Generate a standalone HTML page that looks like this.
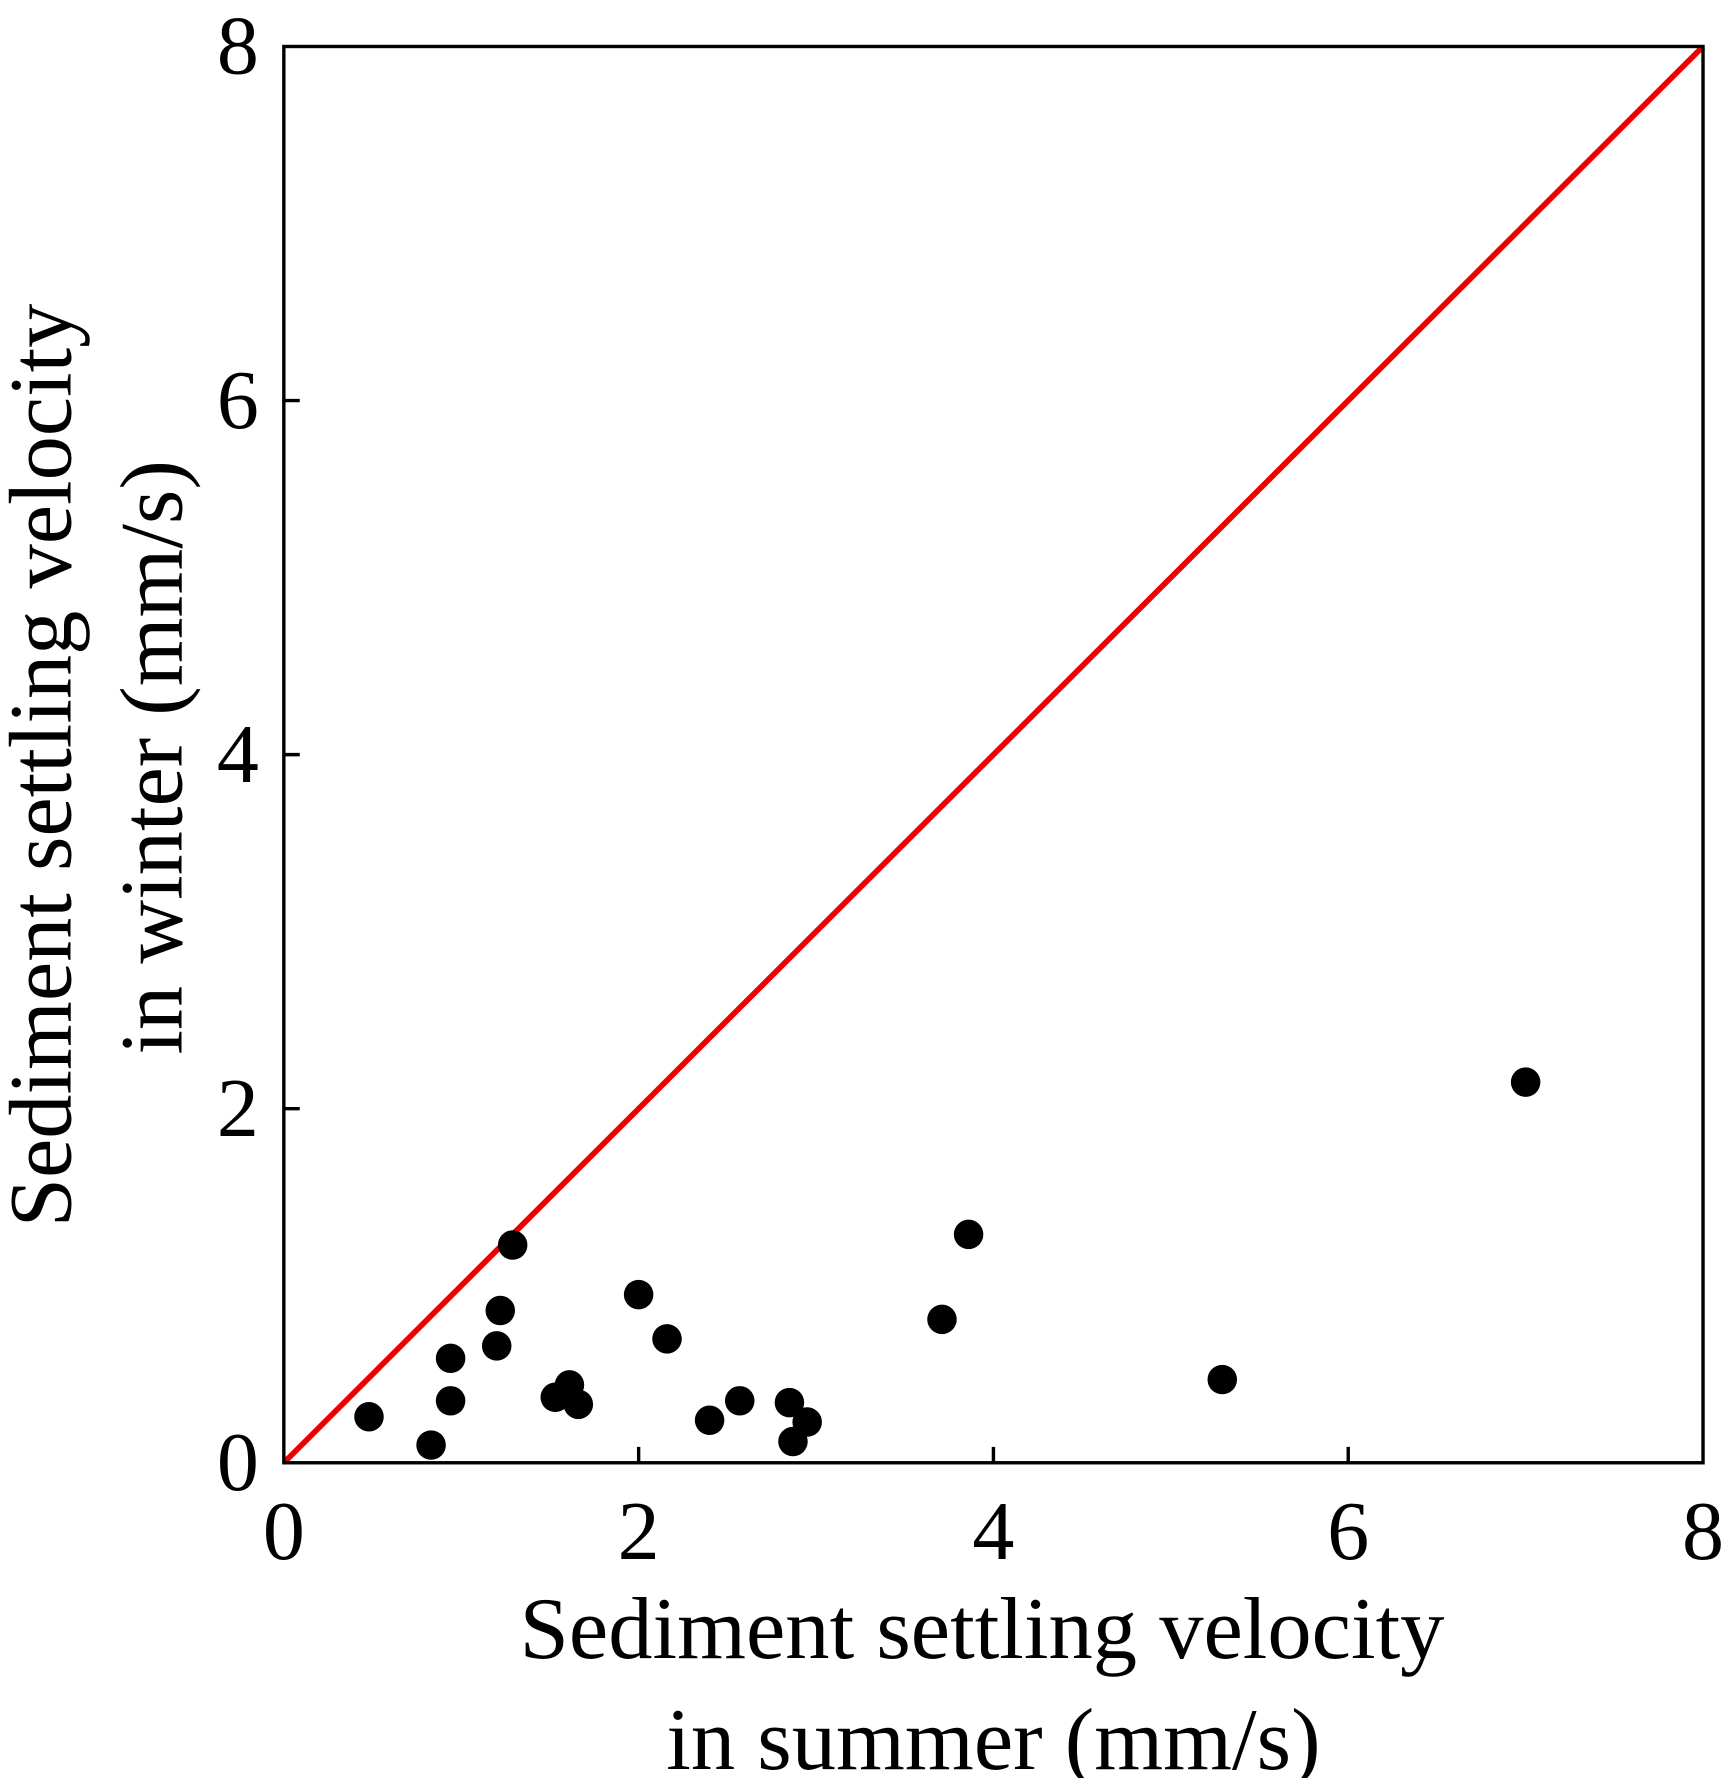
<!DOCTYPE html>
<html><head><meta charset="utf-8"><style>
html,body{margin:0;padding:0;background:#fff;width:1728px;height:1778px;overflow:hidden}
svg{display:block}
text{font-family:"Liberation Serif",serif;fill:#000}
</style></head><body>
<svg id="chart" width="1728" height="1778" viewBox="0 0 1522 1568" preserveAspectRatio="none" xmlns="http://www.w3.org/2000/svg">
<g id="ticks"></g>
<line x1="250" y1="1290" x2="1500" y2="41" stroke="#ee0000" stroke-width="5"/>
<g id="points"></g>
<rect x="250" y="41" width="1250" height="1249" fill="none" stroke="#000" stroke-width="3"/>
<g>
<text x="865" y="1462" font-size="78" text-anchor="middle">Sediment settling velocity</text>
<text x="875" y="1560" font-size="78" text-anchor="middle">in summer (mm/s)</text>
</g>
<g>
<text transform="translate(62,675) rotate(-90)" font-size="78" text-anchor="middle">Sediment settling velocity</text>
<text transform="translate(160,668) rotate(-90)" font-size="78" text-anchor="middle">in winter (mm/s)</text>
</g>
</svg>
<script>
const xVals=[0.48,0.83,0.94,0.94,1.20,1.22,1.29,1.53,1.61,1.66,2.00,2.16,2.40,2.57,2.85,2.95,2.87,3.71,3.86,5.29,7.00];
const yVals=[0.26,0.10,0.59,0.35,0.66,0.86,1.23,0.37,0.44,0.33,0.95,0.70,0.24,0.35,0.34,0.23,0.12,0.81,1.29,0.47,2.15];
const tickVals=[0,2,4,6,8];
const tickLabels=["0","2","4","6","8"];
const NS="http://www.w3.org/2000/svg";
const X0=250,X1=1500,Y0=1290,Y1=41;
function sx(v){return X0+(v/8)*(X1-X0);}
function sy(v){return Y0-(v/8)*(Y0-Y1);}
const tg=document.getElementById('ticks');
tickVals.forEach((t,i)=>{
  if(t>0&&t<8){
    const a=document.createElementNS(NS,'line');
    
    
    a.setAttribute('x1',sx(t));a.setAttribute('x2',sx(t));a.setAttribute('y1',Y0);a.setAttribute('y2',Y0-14);
    a.setAttribute('stroke','#000');a.setAttribute('stroke-width','3');tg.appendChild(a);
    const b=document.createElementNS(NS,'line');
    
    
    b.setAttribute('y1',sy(t));b.setAttribute('y2',sy(t));b.setAttribute('x1',X0);b.setAttribute('x2',X0+14);
    b.setAttribute('stroke','#000');b.setAttribute('stroke-width','3');tg.appendChild(b);
  }
  const lx=document.createElementNS(NS,'text');
  
  
  lx.setAttribute('x',sx(t));lx.setAttribute('y',1375);lx.setAttribute('font-size','74');lx.setAttribute('text-anchor','middle');
  lx.textContent=tickLabels[i];tg.appendChild(lx);
  const ly=document.createElementNS(NS,'text');
  
  
  ly.setAttribute('x',228);ly.setAttribute('y',sy(t)+24);ly.setAttribute('font-size','74');ly.setAttribute('text-anchor','end');
  ly.textContent=tickLabels[i];tg.appendChild(ly);
});
const pg=document.getElementById('points');
xVals.forEach((x,i)=>{
  const c=document.createElementNS(NS,'circle');
  
  
  c.setAttribute('cx',sx(x));c.setAttribute('cy',sy(yVals[i]));c.setAttribute('r','13');c.setAttribute('fill','#000');
  pg.appendChild(c);
});
</script>
</body></html>
